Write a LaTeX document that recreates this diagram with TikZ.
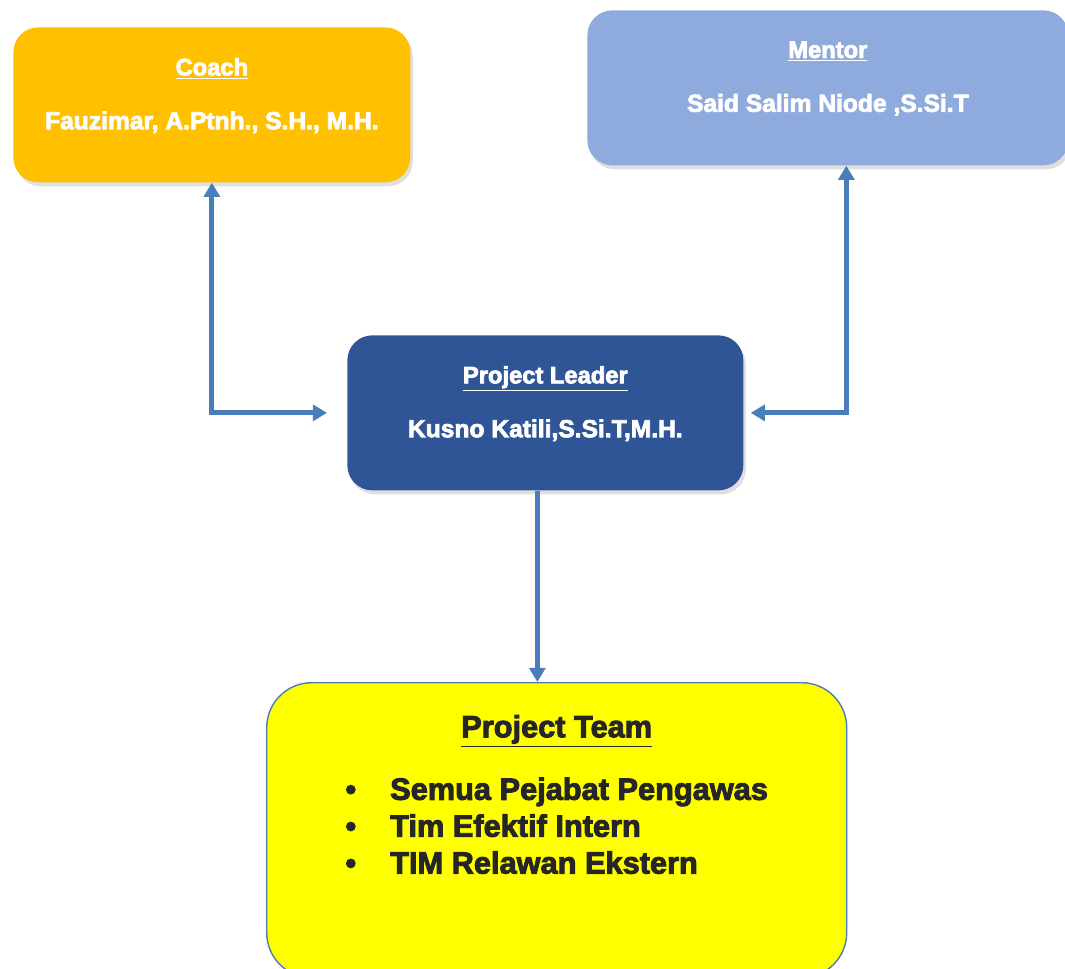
\documentclass[tikz,border=0pt]{standalone}
\usepackage{xcolor}
\usepackage{tikz}
\usetikzlibrary{arrows.meta, positioning, shadows}
\usepackage{fontspec}
\setmainfont{Liberation Sans}
\newfontfamily\heavy[FakeBold=3]{Liberation Sans Bold}
\definecolor{coachfill}{HTML}{FFC000}
\definecolor{mentorfill}{HTML}{8FAADC}
\definecolor{leaderfill}{HTML}{2F5597}
\definecolor{teamfill}{HTML}{FFFF00}
\definecolor{link}{HTML}{4A7EBB}
\definecolor{ink}{HTML}{262626}
\newcommand{\boxtext}[2]{{\fontsize{13.5}{15}\selectfont\underline{#1}}\\[0.55cm]#2\\[-0.08cm]\mbox{}}

\begin{document}
\begin{tikzpicture}[
  box/.style={rounded corners=0.5cm, minimum height=3.1cm, align=center, text=white,
    font=\heavy\fontsize{14}{15}\selectfont,
    drop shadow={opacity=0.25, shadow xshift=0.05cm, shadow yshift=-0.08cm}},
  coachbox/.style={box, fill=coachfill, minimum width=7.94cm},
  mentorbox/.style={box, fill=mentorfill, minimum width=9.62cm},
  leaderbox/.style={box, fill=leaderfill, minimum width=7.92cm},
  teambox/.style={rounded corners=0.9cm, fill=teamfill, draw=link, line width=0.8pt,
    minimum width=11.6cm, minimum height=5.9cm, align=center, text=ink,
    font=\heavy\fontsize{17.5}{21}\selectfont},
  arr/.style={line width=2.8pt, link, {Triangle[width=9pt,length=8pt]}-{Triangle[width=9pt,length=8pt]}},
  onearr/.style={line width=2.8pt, link, -{Triangle[width=9pt,length=8pt]}},
]
\useasboundingbox (0,0) rectangle (21.3,-19.36);
\clip (0,0) rectangle (21.3,-19.36);

% Boxes
\node[coachbox, anchor=north west] (coach) at (0.26,-0.54) {\boxtext{Coach}{Fauzimar, A.Ptnh., S.H., M.H.}};
\node[mentorbox, anchor=north west] (mentor) at (11.74,-0.2) {\boxtext{Mentor}{Said Salim Niode ,S.Si.T}};
\node[leaderbox, anchor=north west] (leader) at (6.94,-6.7) {\boxtext{Project Leader}{Kusno Katili,S.Si.T,M.H.}};

% Team
\node[teambox, anchor=north west] (team) at (5.32,-13.64) {%
  \underline{Project Team}\\[0.5cm]
  \begin{tabular}{@{}l@{\hspace{0.68cm}}l@{}}
    \textbullet & Semua Pejabat Pengawas\\
    \textbullet & Tim Efektif Intern\\
    \textbullet & TIM Relawan Ekstern
  \end{tabular}\\[1.18cm]\mbox{}};

% Arrows
\draw[arr] (coach.south) |- ([xshift=-0.4cm]leader.west);
\draw[arr] ([xshift=0.37cm]mentor.south) |- ([xshift=0.14cm]leader.east);
\coordinate (drop) at ([xshift=-0.16cm]leader.south);
\draw[onearr] (drop) -- (drop |- team.north);

\end{tikzpicture}
\end{document}
